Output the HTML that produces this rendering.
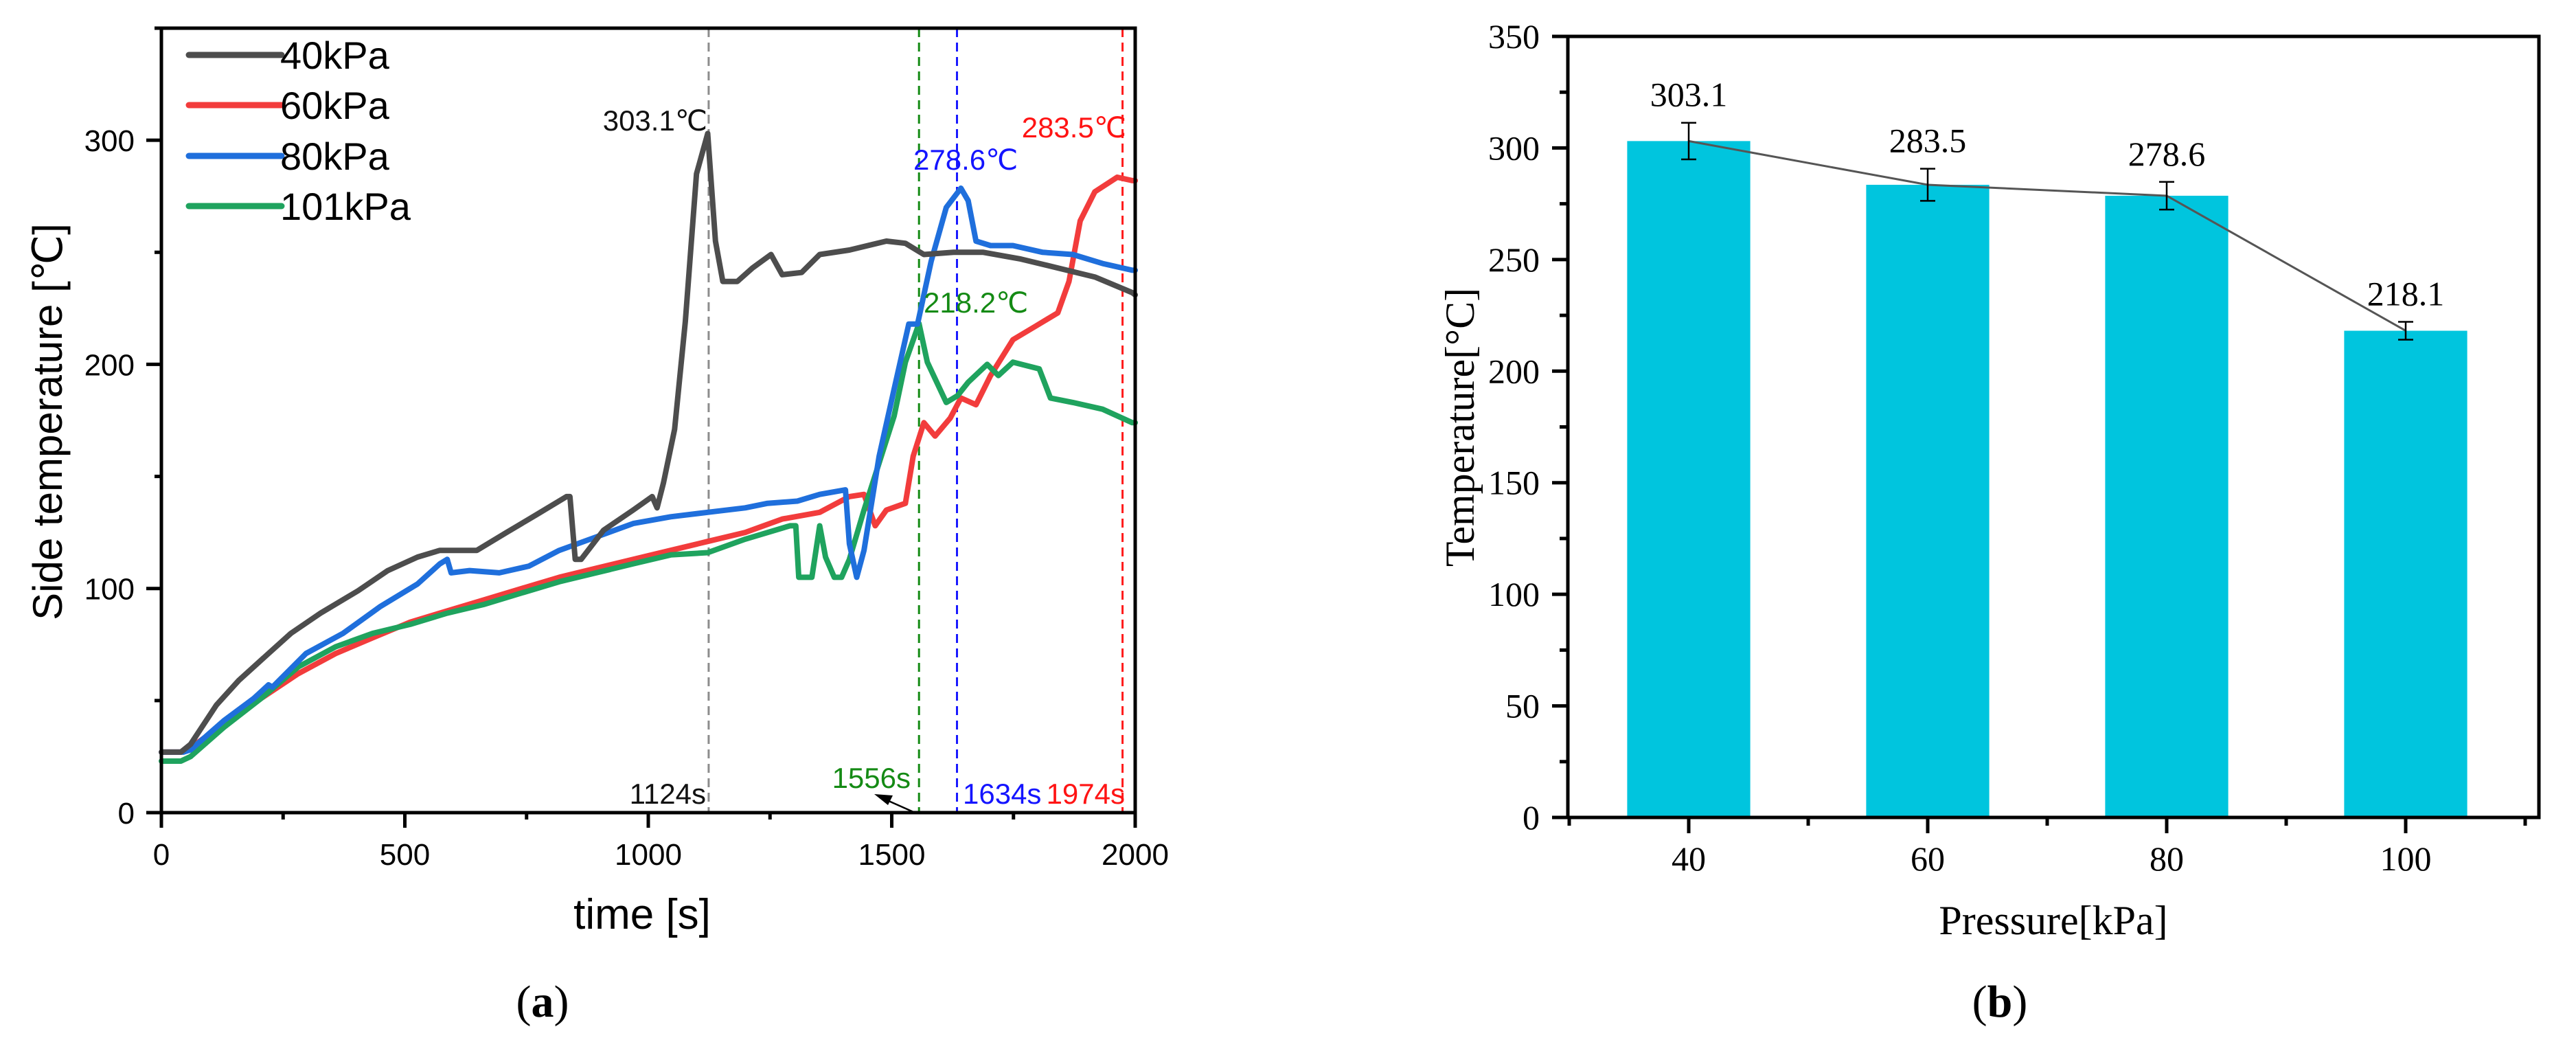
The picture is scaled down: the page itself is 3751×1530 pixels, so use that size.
<!DOCTYPE html>
<html><head><meta charset="utf-8"><style>
html,body{margin:0;padding:0;background:#fff;}
svg{display:block;}
.sa{font-family:"Liberation Sans",Arial,sans-serif;}
.sb{font-family:"Liberation Serif","Times New Roman",serif;}
</style></head><body>
<svg id="fig" width="3751" height="1530" viewBox="0 0 3751 1530" xmlns="http://www.w3.org/2000/svg">
<rect width="3751" height="1530" fill="#fff"/>
<g id="ga"></g>
<g id="gb"></g>
</svg>
<script>
// ---- chart (a) data ----
const t40=[0,40,60,113,159,220,266,327,404,465,526,572,648,709,771,832,839,850,862,908,969,1008,1018,1031,1054,1076,1099,1122,1138,1153,1183,1214,1252,1275,1315,1352,1413,1489,1528,1566,1627,1688,1765,1841,1917,1994,2000];
const v40=[27,27,30.5,48,59,71,80,89,99,108,114,117,117,125,133,141,141,113,113,126,135,141,136,147,171,219,285,303,255,237,237,243,249,240,241,249,251,255,254,249,250,250,247,243,239,232,231];
const t60=[0,40,60,128,205,281,358,434,511,587,664,740,817,893,969,1046,1122,1199,1275,1352,1413,1443,1466,1489,1528,1544,1566,1589,1620,1642,1673,1703,1749,1795,1841,1864,1887,1917,1963,1994,2000];
const v60=[27,27,29,39.5,51,62,71,78,85,90,95,100,105,109,113,117,121,125,131,134,141,142,128,135,138,159,174,168,176,185,182,195,211,217,223,237,264,277,283.5,282,282];
const t80=[0,45,60,128,190,220,228,297,373,450,526,572,587,595,633,694,755,817,893,969,1046,1122,1199,1245,1306,1352,1405,1413,1428,1443,1474,1505,1535,1553,1581,1612,1642,1657,1673,1703,1749,1810,1872,1933,1994,2000];
const v80=[27,27,28,41,51,57,56,71,80,92,102,111,113,107,108,107,110,117,123,129,132,134,136,138,139,142,144,120,105,117,159,189,218,218,246,270,278.6,273,255,253,253,250,249,245,242,242];
const t101=[0,40,60,128,205,281,358,434,511,587,664,740,817,893,969,1046,1122,1199,1291,1303,1309,1336,1352,1364,1382,1397,1413,1443,1474,1505,1528,1556,1573,1612,1635,1657,1696,1719,1749,1803,1826,1872,1933,1994,2000];
const v101=[23,23,25,38,51,65,74,80,84,89,93,98,103,107,111,115,116,122,128,128,105,105,128,114,105,105,113,135,156,177,201,218.2,201,183,186,192,200,195,201,198,185,183,180,174,174];
const seriesNames=["40kPa","60kPa","80kPa","101kPa"];
const peakTimes=[1124,1974,1634,1556];
const peakLabels=["303.1℃","283.5℃","278.6℃","218.2℃"];
const timeLabels=["1124s","1974s","1634s","1556s"];
const xTicksA=[0,500,1000,1500,2000];
const yTicksA=[0,100,200,300];
// ---- chart (b) data ----
const pressures=[40,60,80,100];
const peakTemps=[303.1,283.5,278.6,218.1];
const peakErr=[8.2,7.2,6.2,4];
const xTicksB=[40,60,80,100];
const yTicksB=[0,50,100,150,200,250,300,350];

const NS="http://www.w3.org/2000/svg";
function mk(parent,tag,attrs,text){const e=document.createElementNS(NS,tag);for(const k in attrs)e.setAttribute(k,attrs[k]);if(text!==undefined)e.textContent=text;parent.appendChild(e);return e;}

// ===== chart a =====
const ga=document.getElementById('ga');
const AL=235,AR=1653,AT=41,AB=1183;
const xa=t=>AL+(t/2000)*(AR-AL);
const ya=v=>AB-(v/350)*(AB-AT);
const colors=["#4d4d4d","#f23c3c","#1f6fdc","#1fa35e"];
const vlineCols=["#8c8c8c","#ff1a1a","#1a1aff","#148a14"];
const txtCols=["#111","#ff1414","#1414ff","#148a14"];
const T=[t40,t60,t80,t101],V=[v40,v60,v80,v101];
for(let i=0;i<4;i++){
  const l=mk(ga,'line',{x1:xa(peakTimes[i]),x2:xa(peakTimes[i]),y1:AT,y2:AB,stroke:vlineCols[i],'stroke-width':3,'stroke-dasharray':'13 8'});
  
  
}
const order=[1,3,2,0];
for(const i of order){
  let d='';T[i].forEach((t,k)=>{d+=(k?'L':'M')+xa(t).toFixed(1)+' '+ya(V[i][k]).toFixed(1);});
  const p=mk(ga,'path',{d:d,fill:'none',stroke:colors[i],'stroke-width':8,'stroke-linejoin':'round','stroke-linecap':'round'});
  
  
}
const box=mk(ga,'rect',{x:AL,y:AT,width:AR-AL,height:AB-AT,fill:'none',stroke:'#000','stroke-width':5});


for(let v=0;v<=2000;v+=250){const major=v%500===0;mk(ga,'line',{x1:xa(v),x2:xa(v),y1:AB,y2:AB+(major?22:10),stroke:'#000','stroke-width':5});}
for(let v=0;v<=350;v+=50){const major=v%100===0;mk(ga,'line',{x1:AL,x2:AL-(major?22:10),y1:ya(v),y2:ya(v),stroke:'#000','stroke-width':5});}
xTicksA.forEach(v=>{const e=mk(ga,'text',{x:xa(v),y:1259,'text-anchor':'middle','font-size':44,class:'sa'},String(v));
 
 });
yTicksA.forEach(v=>{const e=mk(ga,'text',{x:196,y:ya(v)+16,'text-anchor':'end','font-size':44,class:'sa'},String(v));
 
 });
const legY=[80,153,227,300];
for(let i=0;i<4;i++){
  const g=mk(ga,'g',{});
  
  
  mk(g,'line',{x1:275,x2:410,y1:legY[i],y2:legY[i],stroke:colors[i],'stroke-width':9,'stroke-linecap':'round'});
  mk(g,'text',{x:408,y:legY[i]+20,'font-size':56,class:'sa'},seriesNames[i]);
}
const pk=[[1030,190,'end'],[1640,200,'end'],[1330,247,'start'],[1345,455,'start']];
for(let i=0;i<4;i++){
  const e=mk(ga,'text',{x:pk[i][0],y:pk[i][1],'text-anchor':pk[i][2],'font-size':42,fill:txtCols[i],class:'sa'},peakLabels[i]);
  
  
}
const tl=[[1028,1170,'end'],[1638,1170,'end'],[1402,1170,'start'],[1326,1147,'end']];
for(let i=0;i<4;i++){
  const e=mk(ga,'text',{x:tl[i][0],y:tl[i][1],'text-anchor':tl[i][2],'font-size':42,fill:txtCols[i],class:'sa'},timeLabels[i]);
  
  
}
mk(ga,'line',{x1:1330,y1:1182,x2:1285,y2:1162,stroke:'#000','stroke-width':2.5});
const ar=mk(ga,'polygon',{points:'1273,1156 1300,1158 1293,1172',fill:'#000'});


let e=mk(ga,'text',{x:935,y:1352,'text-anchor':'middle','font-size':62,class:'sa'},'time [s]');


e=mk(ga,'text',{x:0,y:0,'text-anchor':'middle','font-size':60,class:'sa',transform:'translate(90,614) rotate(-90)'},'Side temperature [℃]');


e=mk(ga,'text',{x:790,y:1480,'text-anchor':'middle','font-size':66,class:'sb'},'');


mk(e,'tspan',{},'(');mk(e,'tspan',{'font-weight':'bold'},'a');mk(e,'tspan',{},')');

// ===== chart b =====
const gb=document.getElementById('gb');
const BL=2283,BR=3697,BT=53,BB=1190;
const xb=p=>2459+(p-40)*((3503-2459)/60);
const yb=v=>BB-(v/350)*(BB-BT);
const bw=10.3*((3503-2459)/60);
pressures.forEach((p,i)=>{
  const r=mk(gb,'rect',{x:xb(p)-bw/2,y:yb(peakTemps[i]),width:bw,height:BB-yb(peakTemps[i]),fill:'#00c5de'});
  
  
});
let dl='';pressures.forEach((p,i)=>{dl+=(i?'L':'M')+xb(p)+' '+yb(peakTemps[i]);});
e=mk(gb,'path',{d:dl,fill:'none',stroke:'#555','stroke-width':3});


pressures.forEach((p,i)=>{
  const g=mk(gb,'g',{});
  
  
  const x=xb(p),t=yb(peakTemps[i]+peakErr[i]),b=yb(peakTemps[i]-peakErr[i]);
  mk(g,'line',{x1:x,x2:x,y1:t,y2:b,stroke:'#000','stroke-width':2.5});
  mk(g,'line',{x1:x-11,x2:x+11,y1:t,y2:t,stroke:'#000','stroke-width':2.5});
  mk(g,'line',{x1:x-11,x2:x+11,y1:b,y2:b,stroke:'#000','stroke-width':2.5});
  const lb=mk(gb,'text',{x:x,y:t-24,'text-anchor':'middle','font-size':50,class:'sb'},peakTemps[i].toFixed(1));
  
  
});
e=mk(gb,'rect',{x:BL,y:BT,width:BR-BL,height:BB-BT,fill:'none',stroke:'#000','stroke-width':5});


for(let v=0;v<=350;v+=25){const major=v%50===0;mk(gb,'line',{x1:BL,x2:BL-(major?23:12),y1:yb(v),y2:yb(v),stroke:'#000','stroke-width':5});}
for(let p=30;p<=110;p+=10){const major=p%20===0;mk(gb,'line',{x1:xb(p),x2:xb(p),y1:BB,y2:BB+(major?23:12),stroke:'#000','stroke-width':5});}
yTicksB.forEach(v=>{const t=mk(gb,'text',{x:2242,y:yb(v)+17,'text-anchor':'end','font-size':50,class:'sb'},String(v));
 
 });
xTicksB.forEach(v=>{const t=mk(gb,'text',{x:xb(v),y:1267,'text-anchor':'middle','font-size':50,class:'sb'},String(v));
 
 });
e=mk(gb,'text',{x:2990,y:1360,'text-anchor':'middle','font-size':60,class:'sb'},'Pressure[kPa]');


e=mk(gb,'text',{x:0,y:0,'text-anchor':'middle','font-size':60,class:'sb',transform:'translate(2146,622) rotate(-90)'},'Temperature[°C]');


e=mk(gb,'text',{x:2912,y:1480,'text-anchor':'middle','font-size':66,class:'sb'},'');


mk(e,'tspan',{},'(');mk(e,'tspan',{'font-weight':'bold'},'b');mk(e,'tspan',{},')');
</script>
</body></html>
